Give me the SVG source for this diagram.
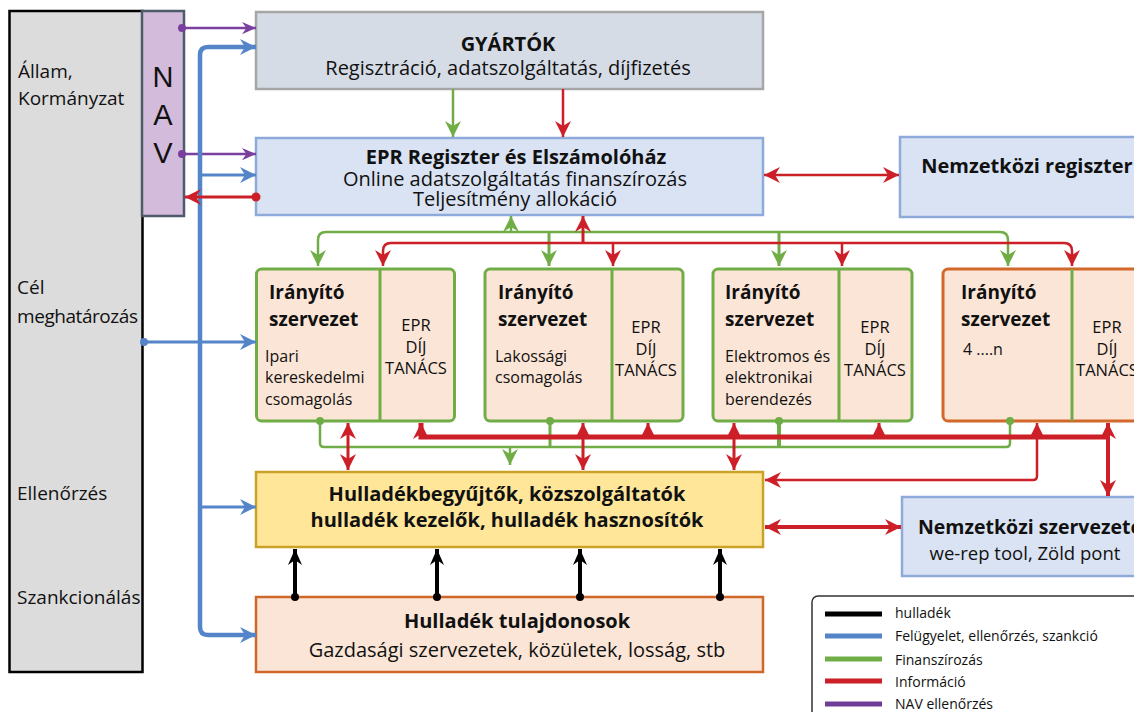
<svg xmlns="http://www.w3.org/2000/svg" width="1134" height="712" viewBox="0 0 1134 712">
<style>
text{font-family:"Open Sans","Liberation Sans",sans-serif;fill:#111}
.b{font-weight:bold;font-size:20px}
.r{font-size:20px}
.s{font-size:16px}
.ib{font-weight:bold;font-size:19px}
.ep{font-size:16.5px;text-anchor:middle}
.m{text-anchor:middle}
.side{font-size:19px}
.lg{font-size:14px}
.irb{fill:#fbe5d6;stroke:#70ad47;stroke-width:3}
.div{stroke:#70ad47;stroke-width:3}
.g{fill:none;stroke:#70ad47;stroke-width:2.5}
.rd{fill:none;stroke:#cc1f27;stroke-width:2.5}
.bl{fill:none;stroke:#5585c9;stroke-width:3}
.pu{fill:none;stroke:#7b3f9e;stroke-width:2.5}
.k{fill:none;stroke:#000;stroke-width:4}
</style>
<defs>
<marker id="ag" markerUnits="userSpaceOnUse" viewBox="0 0 16 16" refX="16" refY="8" markerWidth="16" markerHeight="16" orient="auto-start-reverse"><path d="M0,0 L16,8 L0,16 L5,8 Z" fill="#70ad47"/></marker>
<marker id="ar" markerUnits="userSpaceOnUse" viewBox="0 0 16 16" refX="16" refY="8" markerWidth="16" markerHeight="16" orient="auto-start-reverse"><path d="M0,0 L16,8 L0,16 L5,8 Z" fill="#cc1f27"/></marker>
<marker id="ab" markerUnits="userSpaceOnUse" viewBox="0 0 16 16" refX="16" refY="8" markerWidth="16" markerHeight="16" orient="auto-start-reverse"><path d="M0,0 L16,8 L0,16 L5,8 Z" fill="#5585c9"/></marker>
<marker id="ap" markerUnits="userSpaceOnUse" viewBox="0 0 16 16" refX="16" refY="8" markerWidth="16" markerHeight="14" orient="auto-start-reverse"><path d="M0,1 L16,8 L0,15 L5,8 Z" fill="#7b3f9e"/></marker>
<marker id="ak" markerUnits="userSpaceOnUse" viewBox="0 0 16 16" refX="16" refY="8" markerWidth="16" markerHeight="16" orient="auto-start-reverse"><path d="M0,1 L16,8 L0,15 L5,8 Z" fill="#000"/></marker>
</defs>

<g id="allam">
<rect x="9.5" y="11" width="133" height="661" fill="#dcdcdc" stroke="#000" stroke-width="2.5"/>
<text class="side" x="18" y="78">Állam,</text>
<text class="side" x="18" y="105">Kormányzat</text>
<text class="side" x="17" y="294">Cél</text>
<text class="side" x="17" y="323" textLength="121">meghatározás</text>
<text class="side" x="17" y="500">Ellenőrzés</text>
<text class="side" x="17" y="604">Szankcionálás</text>
</g>
<g id="nav">
<rect x="142" y="11" width="42" height="205" fill="#d3bbdb" stroke="#4d5b6b" stroke-width="2.5"/>
<text x="163" y="87" class="m" style="font-family:'Liberation Sans',sans-serif;font-size:29px">N</text>
<text x="163" y="125" class="m" style="font-family:'Liberation Sans',sans-serif;font-size:29px">A</text>
<text x="163" y="163" class="m" style="font-family:'Liberation Sans',sans-serif;font-size:29px">V</text>
</g>
<g id="gyartok">
<rect x="256" y="12" width="507" height="77" fill="#d6dce5" stroke="#a6a6a6" stroke-width="2.5"/>
<text class="b m" x="508" y="51">GYÁRTÓK</text>
<text class="r m" x="508" y="75">Regisztráció, adatszolgáltatás, díjfizetés</text>
</g>
<g id="epr">
<rect x="256" y="138" width="507" height="77" fill="#dae3f3" stroke="#8eaadb" stroke-width="2.5"/>
<text class="b m" x="516" y="164">EPR Regiszter és Elszámolóház</text>
<text class="r m" x="515" y="186">Online adatszolgáltatás finanszírozás</text>
<text class="r m" x="515" y="206">Teljesítmény allokáció</text>
</g>
<g id="nemzetkozi-regiszter">
<rect x="900" y="137" width="260" height="80" fill="#dae3f3" stroke="#8eaadb" stroke-width="2.5"/>
<text class="b m" x="1027" y="173">Nemzetközi regiszter</text>
</g>
<g id="iranyito1">
<rect class="irb" x="256.5" y="269" width="198" height="152" rx="5"/>
<line class="div" x1="380" y1="269" x2="380" y2="421"/>
<text class="ib" x="269" y="299">Irányító</text>
<text class="ib" x="269" y="326">szervezet</text>
<text class="s" x="265" y="362">Ipari</text>
<text class="s" x="265" y="383">kereskedelmi</text>
<text class="s" x="265" y="405">csomagolás</text>
<text class="ep" x="416" y="331">EPR</text>
<text class="ep" x="416" y="353">DÍJ</text>
<text class="ep" x="416" y="374">TANÁCS</text>
</g>
<g id="iranyito2">
<rect class="irb" x="485" y="269" width="198" height="152" rx="5"/>
<line class="div" x1="612" y1="269" x2="612" y2="421"/>
<text class="ib" x="498" y="299">Irányító</text>
<text class="ib" x="498" y="326">szervezet</text>
<text class="s" x="495" y="362">Lakossági</text>
<text class="s" x="495" y="383">csomagolás</text>
<text class="ep" x="646" y="333">EPR</text>
<text class="ep" x="646" y="355">DÍJ</text>
<text class="ep" x="646" y="376">TANÁCS</text>
</g>
<g id="iranyito3">
<rect class="irb" x="713" y="269" width="199" height="152" rx="5"/>
<line class="div" x1="839" y1="269" x2="839" y2="421"/>
<text class="ib" x="725" y="299">Irányító</text>
<text class="ib" x="725" y="326">szervezet</text>
<text class="s" x="725" y="362">Elektromos és</text>
<text class="s" x="725" y="383">elektronikai</text>
<text class="s" x="725" y="405">berendezés</text>
<text class="ep" x="875" y="333">EPR</text>
<text class="ep" x="875" y="355">DÍJ</text>
<text class="ep" x="875" y="376">TANÁCS</text>
</g>
<g id="iranyito4">
<rect class="irb" x="943" y="269" width="205" height="152" rx="5" style="stroke:#d2692a"/>
<line class="div" x1="1072" y1="269" x2="1072" y2="421"/>
<text class="ib" x="961" y="299">Irányító</text>
<text class="ib" x="961" y="326">szervezet</text>
<text class="s" x="963" y="355">4 ....n</text>
<text class="ep" x="1107" y="333">EPR</text>
<text class="ep" x="1107" y="355">DÍJ</text>
<text class="ep" x="1107" y="376">TANÁCS</text>
</g>
<g id="hulladekkezelok">
<rect x="256" y="472" width="507" height="75" fill="#ffe699" stroke="#c9a227" stroke-width="2.5"/>
<text class="b m" x="507" y="501">Hulladékbegyűjtők, közszolgáltatók</text>
<text class="b m" x="507" y="527">hulladék kezelők, hulladék hasznosítók</text>
</g>
<g id="nemzetkozi-szervezetek">
<rect x="902" y="497" width="260" height="79" fill="#dae3f3" stroke="#8eaadb" stroke-width="2.5"/>
<text class="b" x="918" y="534" style="font-size:19.5px">Nemzetközi szervezetek</text>
<text class="m" x="1025" y="560" style="font-size:18.5px">we-rep tool, Zöld pont</text>
</g>
<g id="tulajdonosok">
<rect x="256" y="597" width="507" height="75" fill="#fbe5d6" stroke="#d0672a" stroke-width="2.5"/>
<text class="b m" x="517" y="628">Hulladék tulajdonosok</text>
<text class="r m" x="517" y="657">Gazdasági szervezetek, közületek, losság, stb</text>
</g>

<g id="connectors">
<path class="pu" d="M182,28 L256,28" marker-end="url(#ap)"/>
<path class="pu" d="M182,154 L256,154" marker-end="url(#ap)"/>
<circle cx="182" cy="28" r="4" fill="#7b3f9e"/>
<circle cx="182" cy="154" r="4" fill="#7b3f9e"/>
<path class="bl" d="M256,47 L208,47 Q200,47 200,55 L200,627 Q200,635 208,635 L256,635" style="stroke-width:4.5" marker-start="url(#ab)" marker-end="url(#ab)"/>
<path class="bl" d="M200,175 L256,175" marker-end="url(#ab)"/>
<path class="bl" d="M200,507 L256,507" marker-end="url(#ab)"/>
<path class="bl" d="M143,342 L256,342" marker-end="url(#ab)"/>
<circle cx="144" cy="342" r="4" fill="#5585c9"/>
<path class="rd" d="M256,197 L185,197" style="stroke-width:3" marker-end="url(#ar)"/>
<circle cx="256" cy="197" r="4.5" fill="#cc1f27"/>
<path class="g" d="M453,89 L453,137" marker-end="url(#ag)"/>
<path class="rd" d="M563,89 L563,137" marker-end="url(#ar)"/>
<path class="rd" d="M764,175 L899,175" marker-start="url(#ar)" marker-end="url(#ar)"/>
<path class="g" d="M318,266 L318,240 Q318,232 326,232 L1000,232 Q1008,232 1008,240 L1008,266" marker-start="url(#ag)" marker-end="url(#ag)"/>
<path class="g" d="M549,232 L549,266" style="stroke-width:3" marker-end="url(#ag)"/>
<path class="g" d="M779,232 L779,266" style="stroke-width:3" marker-end="url(#ag)"/>
<path class="g" d="M511,232 L511,216" marker-end="url(#ag)"/>
<path class="rd" d="M383,266 L383,251 Q383,243 391,243 L1064,243 Q1072,243 1072,251 L1072,266" marker-start="url(#ar)" marker-end="url(#ar)"/>
<path class="rd" d="M613,243 L613,266" marker-end="url(#ar)"/>
<path class="rd" d="M842,243 L842,266" marker-end="url(#ar)"/>
<path class="rd" d="M583,243 L583,216" style="stroke-width:3" marker-end="url(#ar)"/>
<path class="g" d="M320,421 L320,443 Q320,447 324,447 L1006,447 Q1010,447 1010,443 L1010,421"/>
<path class="g" d="M550,421 L550,447" style="stroke-width:3"/>
<path class="g" d="M779,421 L779,447" style="stroke-width:4"/>
<path class="g" d="M510,447 L510,465" marker-end="url(#ag)"/>
<circle cx="320" cy="421" r="4" fill="#70ad47"/>
<circle cx="550" cy="421" r="4" fill="#70ad47"/>
<circle cx="779" cy="421" r="4" fill="#70ad47"/>
<circle cx="1010" cy="421" r="4" fill="#70ad47"/>
<path class="rd" d="M421,423 L421,437 L1108,437" style="stroke-width:5" marker-start="url(#ar)"/>
<path class="rd" d="M648,437 L648,423" style="stroke-width:3" marker-end="url(#ar)"/>
<path class="rd" d="M879,437 L879,423" style="stroke-width:3" marker-end="url(#ar)"/>
<path class="rd" d="M1108,423 L1108,496" style="stroke-width:4" marker-start="url(#ar)" marker-end="url(#ar)"/>
<path class="rd" d="M348,423 L348,470" style="stroke-width:3" marker-start="url(#ar)" marker-end="url(#ar)"/>
<path class="rd" d="M583,423 L583,470" style="stroke-width:3" marker-start="url(#ar)" marker-end="url(#ar)"/>
<path class="rd" d="M734,423 L734,470" style="stroke-width:3" marker-start="url(#ar)" marker-end="url(#ar)"/>
<path class="rd" d="M1037,423 L1037,476 Q1037,480 1033,480 L765,480" marker-start="url(#ar)" marker-end="url(#ar)"/>
<path class="rd" d="M765,527 L901,527" style="stroke-width:4" marker-start="url(#ar)" marker-end="url(#ar)"/>
<path class="k" d="M295,597 L295,549" marker-end="url(#ak)"/>
<path class="k" d="M437,597 L437,549" marker-end="url(#ak)"/>
<path class="k" d="M580,597 L580,549" marker-end="url(#ak)"/>
<path class="k" d="M720,597 L720,549" marker-end="url(#ak)"/>
<circle cx="295" cy="597" r="4" fill="#000"/>
<circle cx="437" cy="597" r="4" fill="#000"/>
<circle cx="580" cy="597" r="4" fill="#000"/>
<circle cx="720" cy="597" r="4" fill="#000"/>
</g>

<g id="legend">
<rect x="812" y="596" width="340" height="130" rx="6" fill="#fff" stroke="#333" stroke-width="1.5"/>
<line x1="825" y1="614" x2="882" y2="614" stroke="#000" stroke-width="5"/>
<line x1="825" y1="636" x2="882" y2="636" stroke="#5585c9" stroke-width="5"/>
<line x1="825" y1="659" x2="882" y2="659" stroke="#70ad47" stroke-width="5"/>
<line x1="825" y1="681" x2="882" y2="681" stroke="#cc1f27" stroke-width="5"/>
<line x1="825" y1="704" x2="882" y2="704" stroke="#6f3c96" stroke-width="5"/>
<text class="lg" x="895" y="618">hulladék</text>
<text class="lg" x="895" y="641">Felügyelet, ellenőrzés, szankció</text>
<text class="lg" x="895" y="665">Finanszírozás</text>
<text class="lg" x="895" y="687">Információ</text>
<text class="lg" x="895" y="709">NAV ellenőrzés</text>
</g>
</svg>
